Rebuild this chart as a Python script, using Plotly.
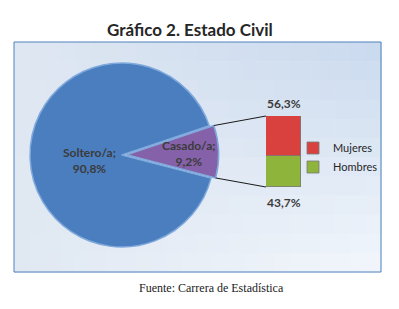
import plotly.graph_objects as go
import math

# ---- data ----
pie_labels = ["Casado/a", "Soltero/a"]
pie_values = [9.2, 90.8]
pie_colors = ["#8561a9", "#4a7ebf"]

bar_series = ["Hombres", "Mujeres"]
bar_values = [43.7, 56.3]
bar_colors = ["#8fb43c", "#d9413f"]

title = "Gráfico 2. Estado Civil"
source = "Fuente: Carrera de Estadística"

W, H = 399, 309
def px(x): return x / W
def py(y): return 1 - y / H

def fmt(v):
    return f"{v:.1f}%".replace(".", ",")

# pie geometry (pixels)
cx, cy, R = 122, 155, 92
pull = 0.05
half = pie_values[0] / 100 * 180
center_ang = 88.0  # clockwise from 12 o'clock
rotation = center_ang - half
dom = R * (1 + pull)

fig = go.Figure()

# background box with a soft bilinear gradient
x0b, x1b, y0b, y1b = 14, 381, 42, 272
TL, TR = (223, 231, 242), (201, 217, 238)
BL, BR = (224, 232, 242), (243, 247, 252)
nx, ny = 24, 12
for i in range(nx):
    for j in range(ny):
        u = (i + 0.5) / nx
        v = (j + 0.5) / ny
        col = tuple(round(TL[k] * (1 - u) * (1 - v) + TR[k] * u * (1 - v)
                          + BL[k] * (1 - u) * v + BR[k] * u * v) for k in range(3))
        xa = x0b + (x1b - x0b) * i / nx
        xb = x0b + (x1b - x0b) * (i + 1) / nx
        ya = y0b + (y1b - y0b) * j / ny
        yb = y0b + (y1b - y0b) * (j + 1) / ny
        fig.add_shape(type="rect", xref="paper", yref="paper",
                      x0=px(xa), x1=px(xb + 0.6), y0=py(yb + 0.6), y1=py(ya),
                      fillcolor=f"rgb{col}", line_width=0, layer="below")
fig.add_shape(type="rect", xref="paper", yref="paper",
              x0=px(x0b), x1=px(x1b), y0=py(y1b), y1=py(y0b),
              line=dict(color="#4f81bd", width=1), fillcolor="rgba(0,0,0,0)", layer="below")

fig.add_trace(go.Pie(
    labels=pie_labels, values=pie_values, sort=False, direction="clockwise",
    rotation=rotation, pull=[pull, 0], textinfo="none", hoverinfo="label+percent",
    marker=dict(colors=pie_colors, line=dict(color="#7fa9dc", width=1.5)),
    domain=dict(x=[px(cx - dom), px(cx + dom)], y=[py(cy + dom), py(cy - dom)]),
    showlegend=False,
))

# stacked bar
bx0, bx1, by_top, by_bot = 266, 301, 116, 187
for name, val, col in zip(bar_series, bar_values, bar_colors):
    fig.add_trace(go.Bar(
        x=[0], y=[val], name=name, width=[1],
        marker=dict(color=col, line=dict(color="#7a7a7a", width=0.8)),
        xaxis="x", yaxis="y",
    ))

# connector lines from slice edges to bar corners
off = pull * R
ca = math.radians(center_ang)
ox, oy = cx + off * math.sin(ca), cy - off * math.cos(ca)
a_top = math.radians(center_ang - half)
a_bot = math.radians(center_ang + half)
pts = [
    ((ox + R * math.sin(a_top), oy - R * math.cos(a_top)), (bx0, by_top)),
    ((ox + R * math.sin(a_bot), oy - R * math.cos(a_bot)), (bx0, by_bot)),
]
for (p0, p1) in pts:
    fig.add_shape(type="line", xref="paper", yref="paper",
                  x0=px(p0[0]), y0=py(p0[1]), x1=px(p1[0]), y1=py(p1[1]),
                  line=dict(color="#1a1a1a", width=1))

lab_font = dict(family="Lato", size=12, color="#3b3b3b")
# pie labels
fig.add_annotation(xref="paper", yref="paper", x=px(61), y=py(160),
                   text=f"<b>{pie_labels[1]};<br>{fmt(pie_values[1])}</b>",
                   showarrow=False, font=lab_font, align="center")
fig.add_annotation(xref="paper", yref="paper", x=px(189), y=py(153),
                   text=f"<b>{pie_labels[0]};<br>{fmt(pie_values[0])}</b>",
                   showarrow=False, font=lab_font, align="center")
# bar labels
fig.add_annotation(xref="x", yref="y", x=0, y=sum(bar_values), yanchor="bottom",
                   yshift=3, text=f"<b>{fmt(bar_values[1])}</b>", showarrow=False, font=lab_font)
fig.add_annotation(xref="x", yref="y", x=0, y=0, yanchor="top",
                   yshift=-6, text=f"<b>{fmt(bar_values[0])}</b>", showarrow=False, font=lab_font)

fig.add_annotation(xref="paper", yref="paper", x=px(190), y=py(17),
                   text=f"<b>{title}</b>", showarrow=False,
                   font=dict(family="Lato", size=17, color="#262626"))
fig.add_annotation(xref="paper", yref="paper", x=px(211), y=py(297),
                   text=source, showarrow=False,
                   font=dict(family="Liberation Serif", size=12, color="#1a1a1a"))

fig.update_layout(
    width=W, height=H, margin=dict(l=0, r=0, t=0, b=0),
    paper_bgcolor="white", plot_bgcolor="rgba(0,0,0,0)",
    barmode="stack", bargap=0,
    xaxis=dict(domain=[px(bx0), px(bx1)], range=[-0.5, 0.5], visible=False, fixedrange=True),
    yaxis=dict(domain=[py(by_bot), py(by_top)], range=[0, 100], visible=False, fixedrange=True),
    legend=dict(x=px(293), y=py(157.5), xanchor="left", yanchor="middle",
                traceorder="reversed", bgcolor="rgba(0,0,0,0)",
                font=dict(family="Lato", size=11, color="#262626"),
                itemwidth=30, tracegroupgap=0),
    showlegend=True,
)

fig.write_html("out.html")
